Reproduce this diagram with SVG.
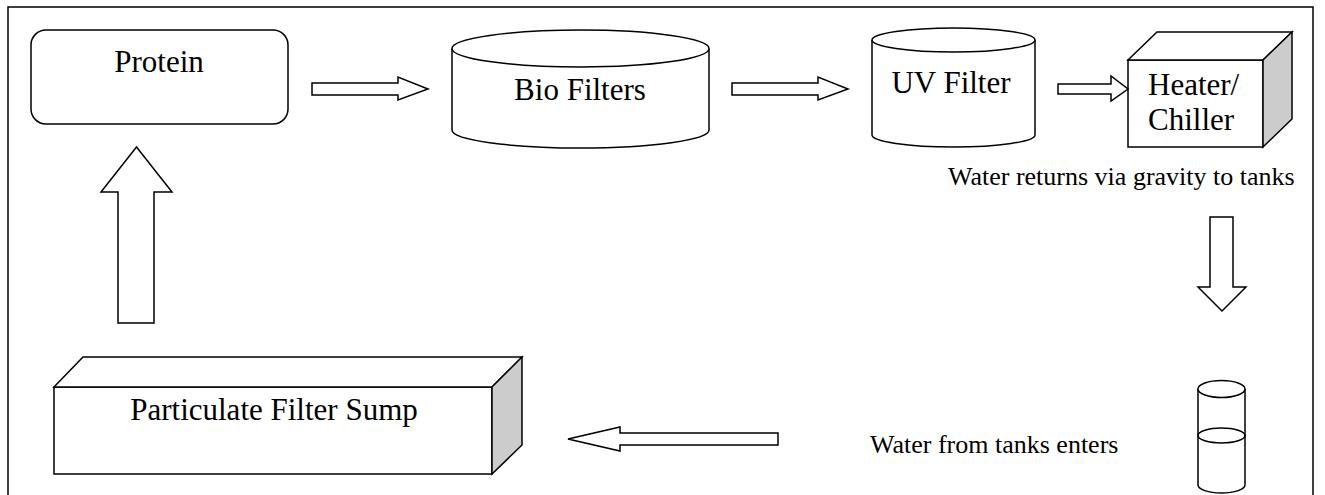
<svg xmlns="http://www.w3.org/2000/svg" width="1325" height="495" viewBox="0 0 1325 495">
<style>
.s{fill:#fff;stroke:#000;stroke-width:1.5}
.g{fill:#cccccc;stroke:#000;stroke-width:1.5}
.n{fill:none;stroke:#000;stroke-width:1.5}
.t{font-family:'Liberation Serif','Times New Roman','DejaVu Serif',serif;font-size:31px;fill:#000}
.m{font-family:'Liberation Serif','Times New Roman','DejaVu Serif',serif;font-size:26px;fill:#000}
</style>
<rect width="1325" height="495" fill="#fff"/>
<path class="n" d="M8,500 V7 H1313 V500"/>
<g id="protein">
<rect class="s" x="31" y="30" width="257" height="94" rx="15"/>
<text class="t" x="159" y="72" text-anchor="middle">Protein</text>
</g>
<g id="bio-filters">
<path class="s" d="M452,48.5 V130 A128.5,18 0 0 0 709,130 V48.5"/>
<ellipse class="s" cx="580.5" cy="48.5" rx="128.5" ry="18.5"/>
<text class="t" x="580" y="100" text-anchor="middle">Bio Filters</text>
</g>
<g id="uv-filter">
<path class="s" d="M872,40 V135 A81.5,12 0 0 0 1035,135 V40"/>
<ellipse class="s" cx="953.5" cy="40" rx="81.5" ry="12"/>
<text class="t" x="951" y="93" text-anchor="middle">UV Filter</text>
</g>
<g id="heater-chiller">
<rect class="s" x="1128" y="60" width="135" height="87"/>
<path class="s" d="M1128,60 L1157,32 H1292 L1263,60 Z"/>
<path class="g" d="M1263,60 L1292,32 V119 L1263,147 Z"/>
<text class="t" x="1148" y="95">Heater/</text>
<text class="t" x="1148" y="130">Chiller</text>
</g>
<g id="tank">
<path class="s" d="M1198,389 V485 A23.5,8 0 0 0 1245,485 V389"/>
<ellipse class="s" cx="1221.5" cy="389" rx="23.5" ry="8.5"/>
<ellipse class="n" cx="1221.5" cy="435.5" rx="23.5" ry="7.5"/>
</g>
<g id="sump">
<rect class="s" x="54" y="387" width="438" height="87"/>
<path class="s" d="M54,387 L83,357 H522 L492,387 Z"/>
<path class="g" d="M492,387 L522,357 V445 L492,474 Z"/>
<text class="t" x="274" y="420" text-anchor="middle">Particulate Filter Sump</text>
</g>
<g id="labels">
<text class="m" x="948" y="185">Water returns via gravity to tanks</text>
<text class="m" x="870" y="453">Water from tanks enters</text>
</g>
<g id="connectors">
<path class="s" d="M312,83 H398 V77 L428,89 L398,100 V95 H312 Z"/>
<path class="s" d="M732,83 H818 V77 L848,89 L818,100 V95 H732 Z"/>
<path class="s" d="M1058,84 H1111 V76 L1128,89 L1111,101 V94 H1058 Z"/>
<path class="s" d="M1210,217 H1233 V287 H1246 L1222,311 L1198,287 H1210 Z"/>
<path class="s" d="M778,433 H620 V427 L568,439 L620,451 V445 H778 Z"/>
<path class="s" d="M118,323 V192 H101 L136.5,147 L172,192 H154 V323 Z"/>
</g>
</svg>
